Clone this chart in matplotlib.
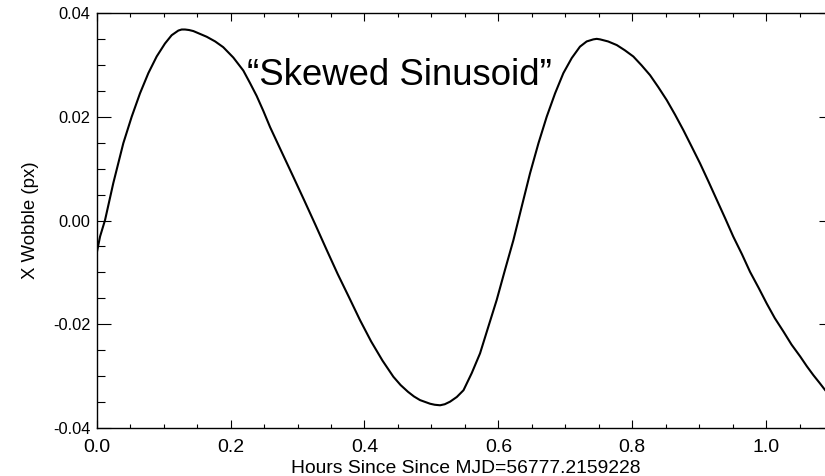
import matplotlib
matplotlib.use("Agg")
import matplotlib.pyplot as plt
from matplotlib.ticker import MultipleLocator, FormatStrFormatter

plt.rcParams["font.family"] = ["Liberation Sans", "DejaVu Sans"]
plt.rcParams["axes.unicode_minus"] = False

# wobble curve
hours = [0.0, 0.005, 0.0125, 0.0248, 0.0398, 0.0523, 0.0647, 0.0772, 0.0896,
         0.102, 0.112, 0.122, 0.127, 0.132, 0.138, 0.1444, 0.1644, 0.177,
         0.189, 0.2041, 0.219, 0.229, 0.239, 0.249, 0.259, 0.276, 0.2938,
         0.31, 0.327, 0.3437, 0.36, 0.377, 0.3934, 0.41, 0.427, 0.4432, 0.454,
         0.465, 0.474, 0.483, 0.498, 0.505, 0.513, 0.52, 0.528, 0.538, 0.548,
         0.5603, 0.5727, 0.585, 0.5976, 0.610, 0.6225, 0.635, 0.6474, 0.660,
         0.6723, 0.6848, 0.6972, 0.7097, 0.722, 0.732, 0.742, 0.747, 0.752,
         0.764, 0.777, 0.789, 0.8017, 0.814, 0.8267, 0.839, 0.8516, 0.864,
         0.8765, 0.889, 0.9014, 0.914, 0.9263, 0.939, 0.951, 0.964, 0.9761,
         0.989, 1.001, 1.013, 1.026, 1.038, 1.051, 1.061, 1.0707, 1.08,
         1.0884, 1.10]
wobble = [-0.0063, -0.0031, 0.0001, 0.0072, 0.0149, 0.0200, 0.0245, 0.0284,
          0.0316, 0.0341, 0.0357, 0.0366, 0.0368, 0.0368, 0.0367, 0.0365,
          0.0354, 0.0345, 0.0334, 0.0314, 0.0289, 0.0265, 0.0240, 0.0211,
          0.0180, 0.0133, 0.0084, 0.0039, -0.0009, -0.0057, -0.0103, -0.0148,
          -0.0192, -0.0233, -0.0270, -0.0301, -0.0317, -0.0330, -0.0339,
          -0.0346, -0.0353, -0.0355, -0.0356, -0.0354, -0.0349, -0.0340,
          -0.0327, -0.0294, -0.0256, -0.0205, -0.0153, -0.0095, -0.0038,
          0.0027, 0.0091, 0.0149, 0.0200, 0.0245, 0.0284, 0.0313, 0.0335,
          0.0345, 0.0349, 0.0350, 0.0349, 0.0345, 0.0338, 0.0328, 0.0316,
          0.0299, 0.0280, 0.0257, 0.0232, 0.0204, 0.0174, 0.0142, 0.0110,
          0.0075, 0.0040, 0.0004, -0.0031, -0.0065, -0.0099, -0.0130, -0.0160,
          -0.0188, -0.0214, -0.0239, -0.0262, -0.0281, -0.0298, -0.0313,
          -0.0327, -0.0344]

x_label = "Hours Since Since MJD=56777.2159228"
y_label = "X Wobble (px)"
note = "\u201cSkewed Sinusoid\u201d"

fig = plt.figure(figsize=(8.25, 4.76), dpi=100)
# the right edge of the plot box runs off the saved picture, as in the original
ax = fig.add_axes([0.1172, 0.1006, 0.8925, 0.8723])

ax.plot(hours, wobble, color="black", lw=1.5)

ax.set_xlim(0.0, 1.1)
ax.set_ylim(-0.04, 0.04)
ax.xaxis.set_major_locator(MultipleLocator(0.2))
ax.xaxis.set_minor_locator(MultipleLocator(0.05))
ax.yaxis.set_major_locator(MultipleLocator(0.02))
ax.yaxis.set_minor_locator(MultipleLocator(0.005))
ax.xaxis.set_major_formatter(FormatStrFormatter("%.1f"))
ax.yaxis.set_major_formatter(FormatStrFormatter("%.2f"))

ax.tick_params(axis="both", which="both", direction="in", top=True, right=True,
               width=0.8, colors="black")
ax.tick_params(axis="x", which="major", length=5.8, pad=8.0, labelsize=14)
ax.tick_params(axis="x", which="minor", length=2.9)
ax.tick_params(axis="y", which="major", length=10, pad=4.3, labelsize=11.8)
ax.tick_params(axis="y", which="minor", length=5.8)
for s in ax.spines.values():
    s.set_linewidth(1.0)

ax.set_ylabel(y_label, fontsize=13.4)
ax.yaxis.set_label_coords(-0.079, 0.5)
fig.text(466 / 825, 3.3 / 476, x_label, fontsize=13.9, ha="center", va="baseline")

ax.text(0.204, 0.826, note, transform=ax.transAxes, fontsize=26.3,
        ha="left", va="baseline")

fig.savefig("out.png", dpi=100)
